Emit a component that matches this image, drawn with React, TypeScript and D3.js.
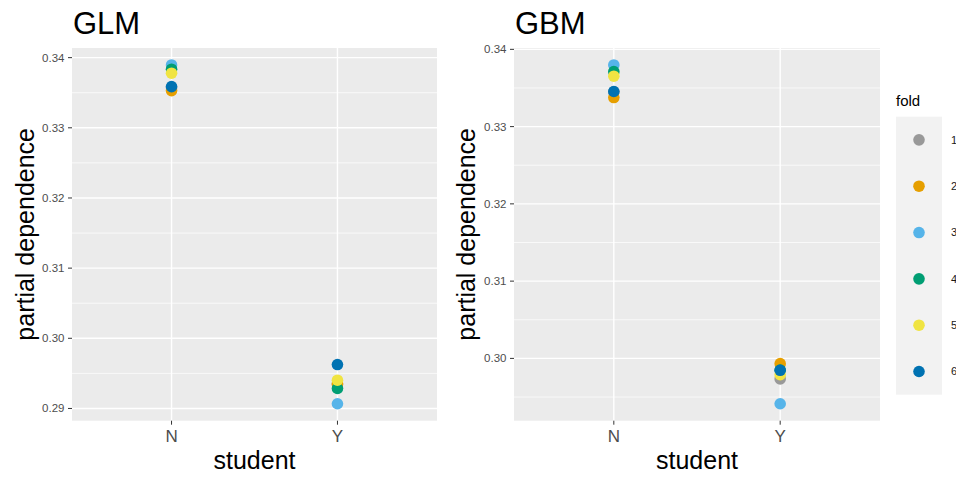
import React from "react";
import * as d3 from "d3";

const categories = ["N", "Y"];
const folds = ["1", "2", "3", "4", "5", "6"];
const foldColors = ["#999999", "#E69F00", "#56B4E9", "#009E73", "#F0E442", "#0072B2"];

// values per fold, [N, Y]
const glmN = [0.3357, 0.3353, 0.33896, 0.33835, 0.33778, 0.33587];
const glmY = [0.2935, 0.2935, 0.29067, 0.29285, 0.29403, 0.29626];
const gbmN = [0.3345, 0.33376, 0.33798, 0.33711, 0.33652, 0.33454];
const gbmY = [0.29735, 0.29932, 0.29413, 0.2985, 0.2979, 0.29846];

const FONT = "'Liberation Sans', Arial, Helvetica, sans-serif";

type PanelProps = {
  title: string;
  nVals: number[];
  yVals: number[];
  left: number;
  right: number;
  top: number;
  bottom: number;
  yTitleX: number;
};

function Panel({ title, nVals, yVals, left, right, top, bottom, yTitleX }: PanelProps) {
  const all = [...nVals, ...yVals];
  const lo = d3.min(all) as number;
  const hi = d3.max(all) as number;
  const pad = (hi - lo) * 0.05;
  const y = d3.scaleLinear().domain([lo - pad, hi + pad]).range([bottom, top]);
  const x = d3.scalePoint<string>().domain(categories).range([left, right]).padding(0.6);
  const [d0, d1] = y.domain();
  const majors = d3.range(Math.ceil(d0 * 100 - 1e-9), Math.floor(d1 * 100 + 1e-9) + 1).map((v) => v / 100);
  const minors = d3
    .range(Math.ceil(d0 * 200 - 1e-9), Math.floor(d1 * 200 + 1e-9) + 1)
    .map((v) => v / 200)
    .filter((v) => Math.abs(v * 100 - Math.round(v * 100)) > 1e-6);
  const fmt = d3.format(".2f");
  const ordered = folds.flatMap((f, i) => [
    { cat: "N", v: nVals[i], c: foldColors[i], k: `N${f}` },
    { cat: "Y", v: yVals[i], c: foldColors[i], k: `Y${f}` },
  ]);
  return (
    <g>
      <text x={left + 1} y={34} fontSize={31} fontFamily={FONT} fill="#000">
        {title}
      </text>
      <rect x={left} y={top} width={right - left} height={bottom - top} fill="#EBEBEB" />
      {minors.map((v) => (
        <line key={"mi" + v} x1={left} x2={right} y1={y(v)} y2={y(v)} stroke="#fff" strokeWidth={0.7} />
      ))}
      {majors.map((v) => (
        <line key={"ma" + v} x1={left} x2={right} y1={y(v)} y2={y(v)} stroke="#fff" strokeWidth={1.4} />
      ))}
      {categories.map((c) => (
        <line key={"vx" + c} x1={x(c)} x2={x(c)} y1={top} y2={bottom} stroke="#fff" strokeWidth={1.4} />
      ))}
      {ordered.map((p) => (
        <circle key={p.k} cx={x(p.cat)} cy={y(p.v)} r={5.8} fill={p.c} />
      ))}
      {majors.map((v) => (
        <g key={"t" + v}>
          <line x1={left - 4} x2={left} y1={y(v)} y2={y(v)} stroke="#333" strokeWidth={1} />
          <text x={left - 7.5} y={y(v)} dy="0.35em" textAnchor="end" fontSize={11.5} fontFamily={FONT} fill="#4D4D4D">
            {fmt(v)}
          </text>
        </g>
      ))}
      {categories.map((c) => (
        <g key={"xt" + c}>
          <line x1={x(c)} x2={x(c)} y1={bottom} y2={bottom + 4} stroke="#333" strokeWidth={1} />
          <text x={x(c)} y={442} textAnchor="middle" fontSize={17} fontFamily={FONT} fill="#4D4D4D">
            {c}
          </text>
        </g>
      ))}
      <text x={(left + right) / 2} y={469} textAnchor="middle" fontSize={25} fontFamily={FONT} fill="#000">
        student
      </text>
      <text
        transform={`translate(${yTitleX},${(top + bottom) / 2}) rotate(-90)`}
        textAnchor="middle"
        fontSize={25}
        fontFamily={FONT}
        fill="#000"
      >
        partial dependence
      </text>
    </g>
  );
}

function Legend() {
  const kx = 896;
  const kw = 46;
  const ktop = 116.7;
  const kh = 46.33;
  return (
    <g>
      <text x={896} y={106} fontSize={15} fontFamily={FONT} fill="#000">
        fold
      </text>
      <rect x={kx} y={ktop} width={kw} height={kh * folds.length} fill="#F2F2F2" />
      {folds.map((f, i) => (
        <g key={f}>
          <circle cx={kx + kw / 2} cy={ktop + kh * i + kh / 2} r={5.8} fill={foldColors[i]} />
          <text x={951} y={ktop + kh * i + kh / 2} dy="0.35em" fontSize={11} fontFamily={FONT} fill="#1A1A1A">
            {f}
          </text>
        </g>
      ))}
    </g>
  );
}

export default function App() {
  return (
    <svg
      width={956}
      height={477}
      style={{ position: "absolute", left: 0, top: 0, background: "#fff" }}
    >
      <rect width={956} height={477} fill="#fff" />
      <Panel title="GLM" nVals={glmN} yVals={glmY} left={72} right={437} top={48} bottom={420.7} yTitleX={34} />
      <Panel title="GBM" nVals={gbmN} yVals={gbmY} left={514} right={880} top={48} bottom={420.7} yTitleX={475} />
      <Legend />
    </svg>
  );
}
